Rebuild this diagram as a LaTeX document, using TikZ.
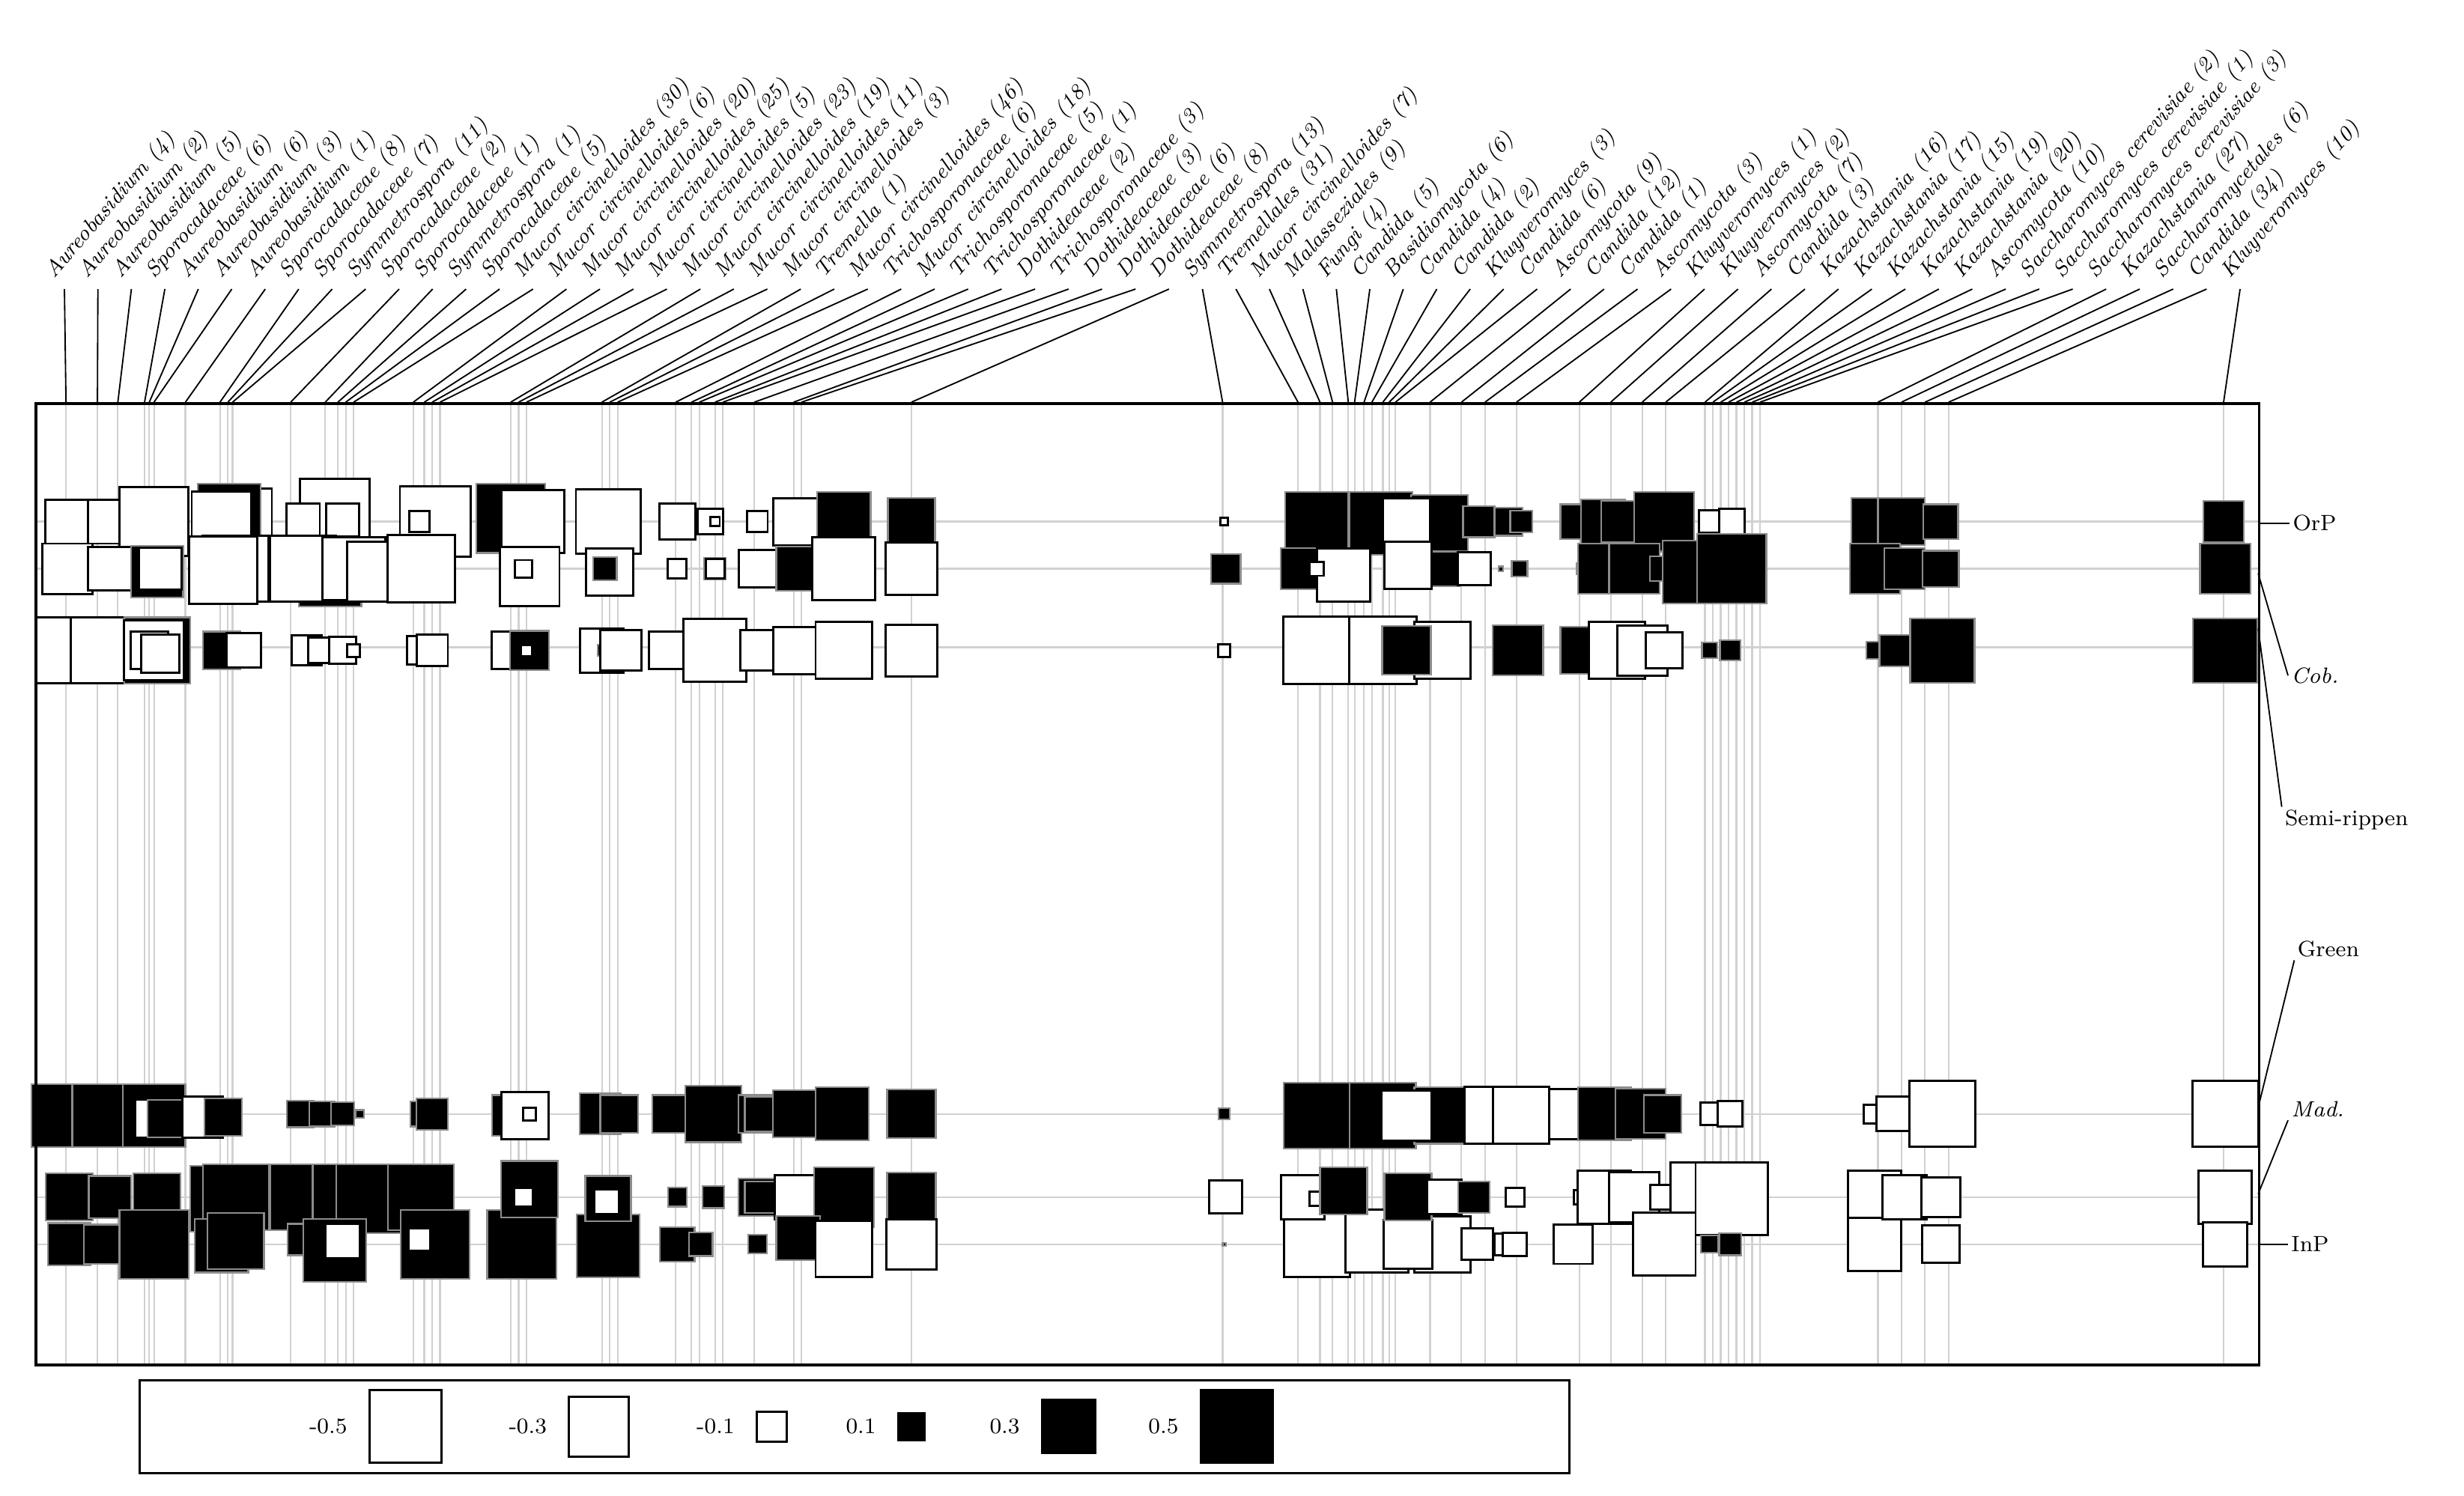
\documentclass[tikz,border=0pt]{standalone}
\begin{document}
\begin{tikzpicture}[x=0.02cm,y=-0.02cm,
 sq/.style={draw=black,line width=0.8pt},
 sqwhite/.style={draw=black,line width=0.8pt,fill=white},
 sqblack/.style={draw=black!45,line width=0.6pt,fill=black},
 grid/.style={draw=black!18,line width=0.6pt},
 stem/.style={draw=black,line width=0.5pt},
 lab/.style={font=\fontsize{7.8}{9}\selectfont\itshape,rotate=49,anchor=south west,inner sep=0.3pt},
 side/.style={font=\fontsize{8}{9}\selectfont,anchor=west,inner sep=1pt},
 leg/.style={font=\fontsize{8}{9}\selectfont,anchor=east,inner sep=1pt}]
\useasboundingbox (0,0) rectangle (1568,952);
% row grid lines
\foreach \ry in {332,362,412,709,762,792} \draw[grid] (22,\ry) -- (1437,\ry);
% columns, labels and stems
\foreach \cx/\t [count=\i] in {42/Aureobasidium (4),62/Aureobasidium (2),75/Aureobasidium (5),92/Sporocadaceae (6),95/Aureobasidium (6),98/Aureobasidium (3),118/Aureobasidium (1),140/Sporocadaceae (8),145/Sporocadaceae (7),148/Symmetrospora (11),185/Sporocadaceae (2),207/Sporocadaceae (1),215/Symmetrospora (1),220/Sporocadaceae (5),225/Mucor circinelloides (30),263/Mucor circinelloides (6),270/Mucor circinelloides (20),275/Mucor circinelloides (25),280/Mucor circinelloides (5),325/Mucor circinelloides (23),330/Mucor circinelloides (19),335/Mucor circinelloides (11),383/Mucor circinelloides (3),388/Tremella (1),393/Mucor circinelloides (46),430/Trichosporonaceae (6),440/Mucor circinelloides (18),445/Trichosporonaceae (5),455/Trichosporonaceae (1),460/Dothideaceae (2),480/Trichosporonaceae (3),505/Dothideaceae (3),510/Dothideaceae (6),580/Dothideaceae (8),778/Symmetrospora (13),826/Tremellales (31),840/Mucor circinelloides (7),848/Malasseziales (9),858/Fungi (4),862/Candida (5),868/Basidiomycota (6),873/Candida (4),880/Candida (2),884/Kluyveromyces (3),888/Candida (6),910/Ascomycota (9),930/Candida (12),945/Candida (1),965/Ascomycota (3),1005/Kluyveromyces (1),1025/Kluyveromyces (2),1045/Ascomycota (7),1060/Candida (3),1085/Kazachstania (16),1090/Kazachstania (17),1095/Kazachstania (15),1100/Kazachstania (19),1105/Kazachstania (20),1110/Ascomycota (10),1115/Saccharomyces cerevisiae (2),1120/Saccharomyces cerevisiae (1),1195/Saccharomyces cerevisiae (3),1210/Kazachstania (27),1225/Saccharomycetales (6),1240/Candida (34),1415/Kluyveromyces (10)} {
  \pgfmathsetmacro\lx{41+(\i-1)*21.3}
  \draw[grid] (\cx,256) -- (\cx,868);
  \node[lab] (l\i) at (\lx-4,181) {\t};
  \coordinate (c\i) at (\cx,256);
  \coordinate (t\i) at (\lx,184);
  \draw[stem] (t\i) -- (c\i);
}
% squares x/y/side/fill
\foreach \x/\y/\s/\c in {
 43/332/28/white,70/332/28/white,98/332/44/white,152/332/42/white,146/328/40/black,141/332/38/white,
 213/327/44/white,193/331/21/white,218/331/21/white,277/332/45/white,267/332/13/white,
 325/330/44/black,339/332/40/white,387/332/41/white,431/332/23/white,452/332/16/white,455/332/6/white,482/332/13/white,
 43/362/32/white,70/362/28/white,100/364/33/black,102/362/27/white,150/362/42/white,142/363/43/white,
 210/366/40/black,193/362/42/white,225/362/40/white,240/364/38/white,268/362/43/white,
 337/367/38/white,333/362/11/white,388/364/30/white,385/362/15/black,431/362/12/white,455/362/14/black,455/362/12/white,482/362/24/white,
 44/414/42/white,66/414/42/white,100/414/42/black,98/414/38/white,95/414/24/white,102/416/24/white,141/414/24/black,155/414/22/white,
 195/414/19/white,204/414/16/white,218/414/17/white,225/414/8/white,268/414/18/white,275/414/20/white,
 325/414/24/white,337/414/25/black,335/414/7/white,383/414/28/white,384/414/7/black,395/414/26/white,
 425/414/24/white,455/414/40/white,484/414/26/white,
 507/332/30/white,537/330/34/black,580/332/30/black,779/332/5/white,
 838/333/40/black,879/333/40/black,916/333/36/black,895/332/30/white,941/332/20/black,
 508/362/28/black,537/362/40/white,580/362/33/white,780/362/19/black,
 828/362/26/black,855/366/34/white,838/362/9/white,918/362/22/black,896/360/30/white,938/362/21/white,
 507/414/30/white,537/414/36/white,580/414/33/white,779/414/8/white,
 838/414/43/white,880/414/43/white,918/414/36/white,895/414/31/black,
 960/332/18/black,968/332/14/black,1004/332/22/black,1020/332/28/black,1032/332/26/black,1059/332/38/black,1088/332/14/white,1102/332/16/white,
 1193/332/30/black,1210/332/30/black,1235/332/22/black,1415/332/26/black,
 955/362/3/black,967/362/10/black,1007/362/7/black,1020/362/32/black,1040/362/32/black,1058/362/16/black,1078/364/40/black,1102/362/44/black,
 1193/362/32/black,1212/362/26/black,1235/362/23/black,1416/362/32/black,
 966/414/32/black,1008/414/30/black,1029/414/36/white,1045/414/32/white,1059/414/23/white,1088/414/10/black,1101/414/13/black,
 1193/414/11/black,1206/414/20/black,1236/414/41/black,1416/414/41/black,
 40/710/40/black,66/710/40/black,98/710/40/black,98/712/24/white,106/712/24/black,129/711/26/white,142/711/24/black,
 191/709/17/black,205/709/16/black,218/709/15/black,229/709/5/black,269/709/16/black,275/709/20/black,
 326/710/26/black,334/710/30/white,337/709/8/white,382/709/26/black,386/709/8/white,394/709/24/black,
 427/709/24/black,454/709/36/black,482/709/24/black,
 485/709/22/black,507/709/30/black,536/709/34/black,580/709/31/black,779/709/7/black,
 838/710/42/black,880/710/42/black,918/710/36/black,895/710/32/white,950/710/36/white,
 968/710/36/white,1002/709/32/white,1021/709/34/black,1044/709/32/black,1058/709/24/black,1089/709/14/white,1101/709/16/white,
 1192/709/12/white,1205/709/22/white,1236/709/42/white,1416/709/42/white,
 44/762/30/black,70/762/27/black,100/762/30/black,142/763/42/black,150/762/42/black,
 193/762/42/black,220/762/42/black,236/763/44/black,268/762/42/black,
 44/792/27/black,66/792/25/black,98/792/44/black,141/793/34/black,150/790/36/black,
 193/789/20/black,213/796/40/black,218/790/22/white,277/792/44/black,267/789/14/white,
 332/792/44/black,337/757/36/black,333/762/12/white,387/793/40/black,387/763/29/black,386/765/16/white,
 431/762/12/black,454/762/14/black,482/762/24/black,431/792/22/black,446/792/15/black,482/792/12/black,
 484/762/20/black,507/762/28/white,537/762/38/black,580/762/31/black,780/762/21/white,
 838/792/42/white,876/790/40/white,918/792/36/white,896/792/31/white,940/792/20/white,
 829/762/28/white,838/763/9/white,855/758/30/black,896/762/30/black,919/762/22/white,938/762/20/black,
 482/792/12/black,508/788/28/black,537/795/36/white,580/792/32/white,779/792/2/black,
 958/792/14/white,964/792/15/white,964/762/12/white,1006/762/9/white,
 1001/792/25/white,1021/762/34/white,1040/762/32/white,1058/762/16/white,1085/762/44/white,1102/763/46/white,
 1059/792/40/white,1088/792/11/black,1101/792/14/black,
 1193/762/34/white,1193/792/34/white,1212/762/28/white,1235/762/25/white,1235/792/24/white,
 1416/762/34/white,1416/792/28/white}
 \draw[sq\c] ({\x-\s/2},{\y-\s/2}) rectangle ({\x+\s/2},{\y+\s/2});
% main frame
\node[draw=black,line width=1pt,minimum width=28.3cm,minimum height=12.24cm,inner sep=0pt,anchor=north west] (frame) at (22,256) {};
% side labels
\node[side] (orp) at (1457,333) {OrP};
\node[side,font=\fontsize{8}{9}\selectfont\itshape] (cob) at (1456,430) {Cob.};
\node[side] (semi) at (1452,522) {Semi-rippen};
\node[side] (green) at (1460,604) {Green};
\node[side,font=\fontsize{8}{9}\selectfont\itshape] (mad) at (1456,706) {Mad.};
\node[side] (inp) at (1456,792) {InP};
\coordinate (a1) at (1437,333); \coordinate (a2) at (1437,365); \coordinate (a3) at (1437,400);
\coordinate (a4) at (1437,705); \coordinate (a5) at (1437,760); \coordinate (a6) at (1437,792);
\draw[stem] (a1) -- (orp.west);
\draw[stem] (a2) -- (cob.west);
\draw[stem] (a3) -- (semi.north west);
\draw[stem] (a4) -- (green.south west);
\draw[stem] (a5) -- (mad.south west);
\draw[stem] (a6) -- (inp.west);
% legend
\node[draw=black,line width=0.8pt,minimum width=18.2cm,minimum height=1.18cm,inner sep=0pt,anchor=north west] (legend) at (88,878) {};
\foreach \lx/\v/\s/\c in {258/-0.5/46/white,381/-0.3/38/white,491/-0.1/19/white,580/0.1/17/black,680/0.3/34/black,787/0.5/46/black} {
  \node[leg] at (\lx-\s/2-12,908) {\v};
  \draw[sq,fill=\c] ({\lx-\s/2},{908-\s/2}) rectangle ({\lx+\s/2},{908+\s/2});
}
\end{tikzpicture}
\end{document}
